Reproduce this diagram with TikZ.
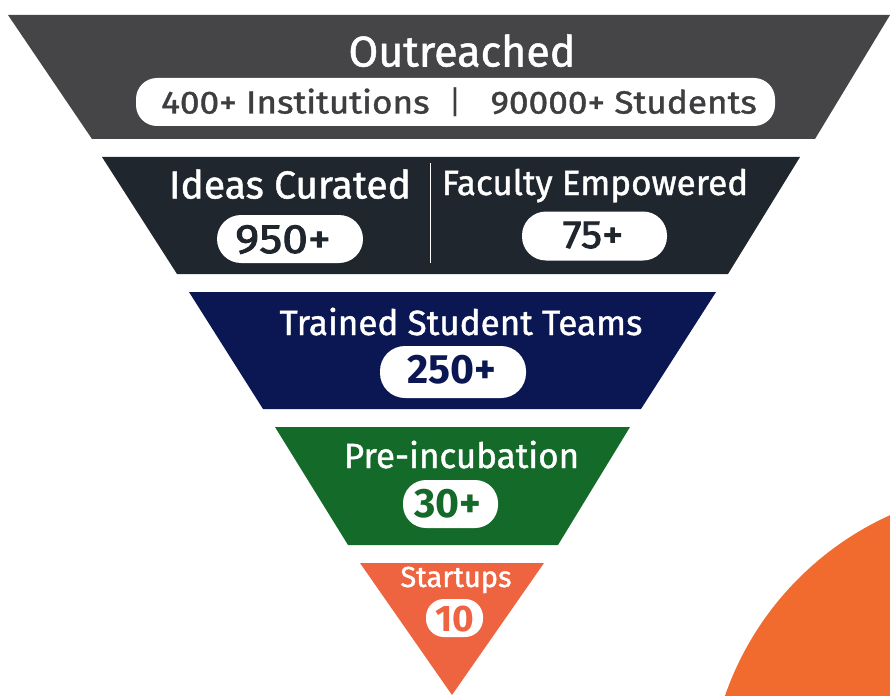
\documentclass[tikz,border=0pt]{standalone}
\usepackage{fontspec}
\usepackage{graphicx}
\setmainfont{Fira Sans}
\newfontfamily\medfont{Fira Sans}[FakeBold=1.2]
\newfontfamily\numfont{Fira Sans}[FakeBold=2.2]
\definecolor{tierA}{HTML}{454547}
\definecolor{tierB}{HTML}{1F262E}
\definecolor{tierC}{HTML}{0B1752}
\definecolor{tierD}{HTML}{146A28}
\definecolor{tierE}{HTML}{EE6440}
\definecolor{blob}{HTML}{F26B2E}
\definecolor{pilltxt}{HTML}{3E3E40}
\newcommand{\wx}[2]{\scalebox{#1}[1]{#2}}
\tikzset{
  pill/.style={fill=white, inner sep=0pt, rounded corners=#1},
  pill/.default=24pt,
  head/.style={text=white, anchor=base, inner sep=0pt},
  num/.style={anchor=base, inner sep=0pt},
}
\begin{document}
\begin{tikzpicture}[x=1pt,y=-1pt]
\useasboundingbox (0,0) rectangle (890,695);
% decorative circle
\fill[blob] (1017,797) circle (309);
% tiers
\fill[tierA] (8,15) -- (890,15) -- (815,139) -- (92,139) -- cycle;
\fill[tierB] (102,157) -- (800,157) -- (728,274) -- (177,274) -- cycle;
\fill[tierC] (189,292) -- (716,292) -- (641,409) -- (263,409) -- cycle;
\fill[tierD] (275,427) -- (630,427) -- (558,545) -- (348,545) -- cycle;
\fill[tierE] (360,563) -- (544,563) -- (452,695) -- cycle;
% tier 1
\node[head, font=\medfont\fontsize{43}{43}\selectfont] (t1) at (462,66.5) {Outreached};
\node[pill=21pt, minimum width=639pt, minimum height=48pt] (p1) at (455.5,102) {};
\node[anchor=base west, inner sep=0pt, text=pilltxt, font=\medfont\fontsize{32}{32}\selectfont] (p1a) at (161,113.5) {\wx{1.1}{400+ Institutions}};
\node[anchor=base, inner sep=0pt, text=pilltxt, font=\fontsize{32}{32}\selectfont] (p1b) at (455,113.5) {|};
\node[anchor=base east, inner sep=0pt, text=pilltxt, font=\medfont\fontsize{32}{32}\selectfont] (p1c) at (757,113.5) {\wx{1.1}{90000+ Students}};
% tier 2
\node[head, font=\medfont\fontsize{39}{39}\selectfont] (t2a) at (290,198.5) {Ideas Curated};
\node[head, font=\medfont\fontsize{35}{35}\selectfont] (t2b) at (595,195) {Faculty Empowered};
\node[fill=white, minimum width=1.6pt, minimum height=100pt, inner sep=0pt] (div) at (430.5,213) {};
\node[pill=24pt, minimum width=146pt, minimum height=48pt] (p2a) at (290,239) {};
\node[num, text=tierB, font=\numfont\fontsize{41}{41}\selectfont] (n2a) at (283,253) {\wx{1.12}{950+}};
\node[pill=24pt, minimum width=145pt, minimum height=49pt] (p2b) at (594.5,236) {};
\node[num, text=tierB, font=\numfont\fontsize{39}{39}\selectfont] (n2b) at (593,248) {\wx{1.08}{75+}};
% tier 3
\node[head, font=\medfont\fontsize{35}{35}\selectfont] (t3) at (461,335) {Trained Student Teams};
\node[pill=25pt, minimum width=146pt, minimum height=52pt] (p3) at (453,372) {};
\node[num, text=tierC, font=\bfseries\fontsize{41}{41}\selectfont] (n3) at (451.5,383) {250+};
% tier 4
\node[head, font=\medfont\fontsize{35}{35}\selectfont] (t4) at (461.5,468) {Pre-incubation};
\node[pill=23pt, minimum width=95pt, minimum height=48pt] (p4) at (450.5,504) {};
\node[num, text=tierD, font=\bfseries\fontsize{41}{41}\selectfont] (n4) at (448,517) {30+};
% tier 5
\node[head, font=\medfont\fontsize{29}{29}\selectfont] (t5) at (456,587) {Startups};
\node[pill=18pt, minimum width=57pt, minimum height=38pt] (p5) at (454.5,618) {};
\node[num, text=tierE, font=\bfseries\fontsize{37}{37}\selectfont] (n5) at (455,631.5) {10};
\end{tikzpicture}
\end{document}
